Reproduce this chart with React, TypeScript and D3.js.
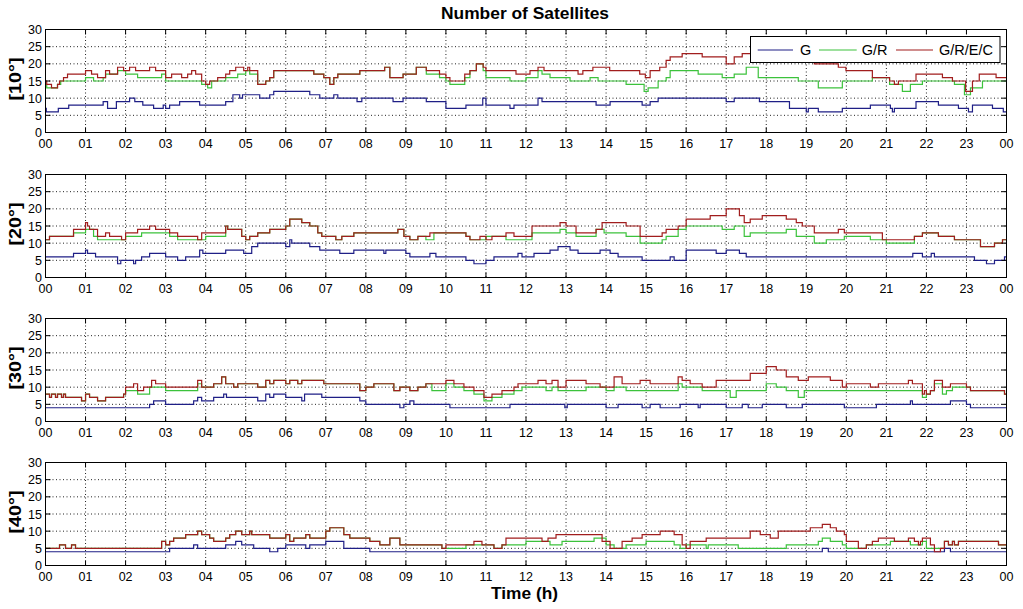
import React from 'react';
import * as d3 from 'd3';

type Pt = [number, number];

const TITLE = 'Number of Satellites';
const X_LABEL = 'Time (h)';
const PANEL_LABELS = ['[10°]', '[20°]', '[30°]', '[40°]'];
const SERIES_NAMES = ['G', 'G/R', 'G/R/E/C'];
const SERIES_COLORS = ['#1f1f86', '#3cc23c', '#a11d1d'];
const HOUR_TICKS = [0, 1, 2, 3, 4, 5, 6, 7, 8, 9, 10, 11, 12, 13, 14, 15, 16, 17, 18, 19, 20, 21, 22, 23, 24];
const HOUR_LABELS = ['00', '01', '02', '03', '04', '05', '06', '07', '08', '09', '10', '11', '12', '13', '14', '15', '16', '17', '18', '19', '20', '21', '22', '23', '00'];
const Y_TICKS = [0, 5, 10, 15, 20, 25, 30];

// ---- 10° ----
const G_10: Pt[] = [[0,7],[0.02,6],[0.32,7],[0.58,8],[1.44,9],[1.55,7],[1.77,9],[2.1,10],[2.23,9],[2.43,8],[2.7,7],[2.94,8],[3.0,7],[3.1,8],[3.35,9],[3.85,8],[4.5,9],[4.68,11],[4.85,10],[4.92,11],[5.35,10],[5.6,11],[5.7,12],[6.6,11],[6.85,10],[7.2,11],[7.3,10],[7.78,9],[7.9,10],[8.68,9],[8.93,10],[9.51,9],[10.0,7],[10.5,8],[10.92,10],[11.0,8],[11.6,7],[11.7,8],[12.3,10],[12.4,9],[13.75,8],[14.1,9],[14.9,8],[15.1,9],[15.3,10],[17.0,9],[17.2,10],[17.83,9],[18.58,7],[19.0,6],[19.05,7],[19.3,6],[19.9,7],[20.6,8],[21.1,7],[21.15,6],[21.2,7],[21.74,9],[22.3,8],[22.8,7],[23.05,6],[23.15,8],[23.65,7],[23.92,6]];
const GR_10: Pt[] = [[0,14],[0.03,13],[0.3,14],[0.38,15],[1.0,16],[1.2,15],[1.44,16],[1.5,17],[1.8,18],[2.0,17],[2.3,16],[2.9,17],[3.0,15],[3.9,14],[4.05,13],[4.15,15],[4.5,16],[4.8,17],[5.0,18],[5.1,17],[5.3,14],[5.5,15],[5.6,16],[5.7,18],[6.7,17],[6.95,16],[7.1,14],[7.2,16],[7.3,17],[7.85,18],[8.47,19],[8.6,16],[8.93,17],[9.26,19],[9.51,17],[9.84,16],[10.0,15],[10.1,14],[10.47,16],[10.6,18],[10.76,20],[10.93,18],[11.0,16],[11.6,15],[12.0,16],[12.3,18],[12.4,17],[12.6,16],[13.1,15],[13.6,16],[13.8,15],[14.5,14],[14.95,12],[15.05,13],[15.3,15],[15.5,16],[15.6,18],[16.3,17],[16.9,16],[17.2,17],[17.5,19],[17.8,16],[18.8,15],[19.3,13],[19.9,15],[20.65,16],[21.08,14],[21.4,12],[21.6,14],[21.9,15],[22.7,14],[22.95,11],[23.1,13],[23.4,15]];
const GRC_10: Pt[] = [[0,15],[0.03,14],[0.15,13],[0.3,14],[0.35,15],[0.45,16],[0.55,17],[1.0,18],[1.15,17],[1.3,16],[1.5,18],[1.6,17],[1.8,19],[1.95,18],[2.1,19],[2.25,18],[2.6,19],[2.75,18],[3.0,16],[3.15,17],[3.4,16],[3.55,17],[3.65,18],[3.75,17],[3.9,15],[4.0,14],[4.1,15],[4.3,16],[4.5,17],[4.6,18],[4.75,19],[4.95,18],[5.05,19],[5.1,18],[5.3,14],[5.5,15],[5.6,16],[5.7,18],[6.7,17],[6.95,16],[7.1,14],[7.2,16],[7.3,17],[7.85,18],[8.47,19],[8.6,16],[8.93,17],[9.26,19],[9.51,18],[9.84,17],[10.0,16],[10.1,15],[10.47,17],[10.6,18],[10.76,20],[10.93,19],[11.0,18],[11.75,17],[12.1,18],[12.3,19],[12.45,18],[13.3,17],[13.42,18],[13.67,19],[14.09,18],[14.84,17],[14.98,16],[15.1,18],[15.34,19],[15.5,21],[15.6,22],[15.9,23],[16.4,22],[17.0,20],[17.2,22],[17.4,23],[18.2,22],[18.8,21],[19.2,20],[19.8,19],[19.99,18],[20.65,16],[21.08,15],[21.2,14],[21.3,15],[21.74,17],[22.4,16],[22.65,15],[22.98,12],[23.15,15],[23.32,17],[23.74,16]];

// ---- 20° ----
const G_20: Pt[] = [[0,6],[0.7,7],[1.0,8],[1.05,7],[1.25,6],[1.8,4],[1.88,5],[2.2,4],[2.25,5],[2.4,6],[2.6,7],[3.0,6],[3.3,5],[3.5,6],[3.85,8],[3.93,7],[4.5,8],[4.95,7],[5.15,9],[5.3,10],[6.0,9],[6.1,11],[6.15,10],[6.6,9],[6.85,8],[7.35,7],[7.7,8],[8.45,7],[8.5,8],[9.0,7],[9.1,6],[9.6,7],[9.75,6],[10.5,5],[10.7,4],[11.0,5],[11.2,6],[11.8,7],[11.9,6],[12.2,7],[12.6,8],[12.8,9],[13.1,8],[13.3,7],[13.85,8],[14.1,7],[14.3,6],[14.9,5],[15.6,6],[15.7,5],[16.0,8],[16.75,7],[17.0,8],[17.33,7],[17.5,6],[21.66,7],[21.9,6],[22.12,7],[22.2,6],[23.2,5],[23.5,4],[23.7,5],[23.95,6]];
const GR_20: Pt[] = [[0,11],[0.1,12],[0.7,13],[1.0,14],[1.2,12],[1.3,11],[2.0,12],[2.4,13],[3.1,12],[3.3,11],[4.0,12],[4.5,15],[4.55,14],[4.9,12],[5.0,11],[5.1,12],[5.3,13],[5.6,14],[6.0,15],[6.1,17],[6.4,16],[6.6,15],[6.8,13],[6.9,12],[7.25,11],[7.4,12],[7.7,13],[8.8,14],[8.95,12],[9.1,11],[9.3,12],[9.5,11],[9.7,13],[10.5,12],[10.6,11],[11.0,12],[11.5,11],[12.15,13],[12.85,14],[13.0,13],[13.25,12],[13.75,14],[13.95,13],[14.5,12],[14.85,10],[15.4,11],[15.5,12],[15.8,14],[16.0,15],[16.9,14],[17.2,15],[17.45,12],[17.6,13],[18.5,14],[18.75,12],[19.2,10],[19.5,11],[19.95,12],[20.6,11],[21.0,10],[21.7,12],[21.9,13],[22.3,12],[22.7,11],[23.35,9],[23.7,10],[23.9,11]];
const GRC_20: Pt[] = [[0,11],[0.1,12],[0.7,14],[1.0,16],[1.05,15],[1.1,14],[1.3,12],[1.5,13],[1.6,12],[1.9,11],[2.0,13],[2.3,14],[2.6,15],[2.75,14],[3.1,13],[3.3,12],[3.8,11],[3.9,13],[4.5,15],[4.55,14],[4.9,12],[5.0,11],[5.1,12],[5.3,13],[5.6,14],[6.0,15],[6.1,17],[6.4,16],[6.6,15],[6.8,13],[6.9,12],[7.25,11],[7.4,12],[7.7,13],[8.8,14],[8.95,12],[9.1,11],[9.3,12],[9.6,13],[10.5,12],[10.6,11],[10.85,12],[11.0,11],[11.15,12],[11.5,13],[11.7,12],[12.15,15],[12.85,16],[13.0,15],[13.25,13],[13.75,14],[13.9,16],[14.5,15],[14.85,12],[15.4,13],[15.5,14],[15.8,15],[16.0,17],[16.6,18],[17.0,20],[17.33,18],[17.45,16],[17.6,17],[17.9,18],[18.5,17],[18.75,16],[18.9,15],[19.2,13],[19.8,14],[19.95,13],[20.9,11],[21.7,12],[21.9,13],[22.3,12],[22.7,11],[23.35,9],[23.7,10],[23.9,11]];

// ---- 30° ----
const G_30: Pt[] = [[0,4],[2.6,5],[2.7,6],[3.0,5],[3.7,6],[3.8,7],[3.9,6],[4.2,7],[4.45,8],[4.52,7],[5.3,6],[5.5,8],[5.6,7],[5.7,8],[6.0,7],[6.4,6],[6.47,8],[6.9,7],[7.85,6],[8.0,5],[8.85,4],[8.95,5],[9.1,6],[9.2,5],[10.1,4],[11.6,5],[12.97,4],[13.03,5],[14.0,4],[14.3,5],[14.9,4],[15.1,5],[15.35,4],[15.85,5],[16.3,4],[16.35,5],[17.0,4],[17.4,5],[17.55,4],[17.9,5],[18.5,4],[18.9,5],[19.95,4],[20.75,5],[21.6,6],[21.65,5],[22.6,6],[23.0,5],[23.1,4]];
const GR_30: Pt[] = [[0,8],[0.1,7],[0.15,8],[0.25,7],[0.3,8],[0.4,7],[0.45,8],[0.5,7],[0.9,6],[1.0,8],[1.1,7],[1.3,6],[1.5,7],[1.95,8],[2.0,9],[2.3,8],[2.6,10],[3.0,9],[3.8,11],[3.9,10],[4.2,11],[4.4,13],[4.5,11],[4.7,10],[4.8,11],[5.3,10],[5.5,12],[5.6,11],[5.7,12],[6.0,11],[6.1,12],[6.3,11],[6.4,12],[6.95,11],[7.85,9],[8.0,10],[8.2,11],[8.7,9],[8.85,10],[9.1,9],[9.3,10],[9.5,11],[9.65,9],[10.0,11],[10.2,10],[10.45,9],[10.7,8],[10.95,6],[11.15,7],[11.4,8],[11.7,9],[11.9,10],[12.5,9],[12.65,10],[12.8,9],[13.5,10],[14.0,9],[14.2,10],[14.5,9],[15.8,11],[15.9,10],[16.4,9],[17.1,7],[17.25,9],[18.0,11],[18.25,10],[18.5,9],[18.8,7],[18.95,9],[21.9,7],[22.0,8],[22.1,9],[22.2,11],[22.4,8],[22.5,9],[22.65,10],[23.1,9],[23.95,8]];
const GRC_30: Pt[] = [[0,8],[0.1,7],[0.15,8],[0.25,7],[0.3,8],[0.4,7],[0.45,8],[0.5,7],[0.9,6],[1.0,8],[1.1,7],[1.3,6],[1.5,7],[1.95,8],[2.0,10],[2.2,11],[2.3,9],[2.45,10],[2.65,12],[2.75,11],[3.0,10],[3.8,12],[3.9,10],[4.2,11],[4.4,13],[4.5,11],[4.7,10],[4.8,11],[5.3,10],[5.5,12],[5.6,11],[5.7,12],[6.0,11],[6.1,12],[6.3,11],[6.4,12],[6.95,11],[7.85,9],[8.0,10],[8.2,11],[8.7,9],[8.85,10],[9.1,9],[9.3,10],[9.5,11],[10.0,12],[10.2,11],[10.45,10],[10.7,9],[10.95,7],[11.15,8],[11.4,9],[11.7,10],[11.8,11],[12.3,12],[12.5,11],[12.65,12],[12.8,10],[13.0,12],[13.5,11],[13.85,10],[14.2,13],[14.4,11],[14.85,12],[15.1,11],[15.8,13],[15.9,12],[16.1,11],[16.4,10],[16.75,12],[17.6,14],[18.0,16],[18.25,15],[18.5,13],[18.8,12],[19.05,13],[19.6,12],[19.9,10],[20.0,11],[20.6,10],[20.8,11],[21.55,12],[21.65,11],[21.9,8],[21.95,9],[22.0,8],[22.1,9],[22.2,12],[22.4,10],[22.6,11],[23.0,10],[23.1,9],[23.95,8]];

// ---- 40° ----
const G_40: Pt[] = [[0,4],[3.1,5],[3.7,6],[3.8,5],[4.5,6],[4.75,7],[4.9,6],[5.2,5],[5.6,4],[5.8,5],[6.0,6],[6.5,5],[6.6,6],[7.0,7],[7.45,5],[8.1,4],[19.4,5],[19.55,4],[22.45,5],[22.6,4]];
const GR_40: Pt[] = [[0,5],[0.35,6],[0.5,5],[0.65,6],[0.75,5],[2.9,7],[3.0,6],[3.1,7],[3.2,8],[3.5,9],[3.8,10],[3.9,9],[4.1,8],[4.2,7],[4.5,8],[4.6,9],[4.75,10],[4.9,9],[5.1,10],[5.15,9],[5.6,8],[6.0,9],[6.1,7],[6.2,8],[6.5,9],[6.6,8],[7.0,10],[7.1,11],[7.45,9],[7.6,8],[8.1,7],[8.35,6],[8.6,8],[8.85,6],[9.9,5],[10.5,6],[11.2,5],[11.4,6],[12.0,7],[12.6,6],[12.9,7],[13.7,8],[14.0,6],[14.2,5],[14.5,6],[15.0,7],[15.7,6],[15.85,5],[16.0,6],[16.5,5],[16.55,6],[17.3,5],[18.5,6],[19.3,7],[19.4,8],[19.6,7],[19.9,6],[20.0,5],[20.5,6],[21.1,7],[21.6,6],[21.9,7],[22.0,5],[22.45,7],[22.55,6],[22.65,7],[22.7,6],[22.8,7],[23.8,6]];
const GRC_40: Pt[] = [[0,5],[0.35,6],[0.5,5],[0.65,6],[0.75,5],[2.9,7],[3.0,6],[3.1,7],[3.2,8],[3.5,9],[3.8,10],[3.9,9],[4.1,8],[4.2,7],[4.5,8],[4.6,9],[4.75,10],[4.9,9],[5.1,10],[5.15,9],[5.6,8],[6.0,9],[6.1,7],[6.2,8],[6.5,9],[6.6,8],[7.0,10],[7.1,11],[7.45,9],[7.6,8],[8.1,7],[8.35,6],[8.6,8],[8.85,6],[9.9,5],[10.0,6],[10.7,7],[10.9,6],[11.2,5],[11.4,6],[11.5,8],[12.4,7],[12.55,8],[12.75,9],[13.9,7],[14.1,5],[14.4,7],[14.65,8],[14.9,9],[15.35,10],[15.7,9],[15.9,6],[16.0,5],[16.1,7],[16.5,8],[17.6,10],[17.85,9],[18.1,8],[18.3,10],[19.1,11],[19.4,12],[19.6,11],[19.75,10],[19.95,9],[20.0,7],[20.3,5],[20.5,6],[20.65,7],[20.8,8],[21.2,7],[21.55,8],[21.7,7],[21.8,6],[21.85,7],[21.9,8],[22.1,6],[22.2,4],[22.35,5],[22.45,7],[22.55,6],[22.65,7],[22.7,6],[22.8,7],[23.8,6]];

const PANELS: Pt[][][] = [
  [G_10, GR_10, GRC_10],
  [G_20, GR_20, GRC_20],
  [G_30, GR_30, GRC_30],
  [G_40, GR_40, GRC_40],
];

const W = 1023;
const H = 609;
const X0 = 45.5;
const X1 = 1006.5;
const PANEL_TOPS = [29.5, 174.5, 318.5, 462.5];
const PH = 103;
const FONT = '"Liberation Sans", Arial, Helvetica, sans-serif';
const TICK = 5;

const x = d3.scaleLinear().domain([0, 24]).range([X0, X1]);

function withEnd(d: Pt[]): Pt[] {
  const last = d[d.length - 1];
  return [...d, [24, last[1]]];
}

function Panel({ idx }: { idx: number }) {
  const top = PANEL_TOPS[idx];
  const y = d3.scaleLinear().domain([0, 30]).range([top + PH, top]);
  const line = d3
    .line<Pt>()
    .x((d) => x(d[0]))
    .y((d) => y(d[1]))
    .curve(d3.curveStepAfter);
  const series = PANELS[idx];
  const cy = top + PH / 2 - 2;
  return (
    <g>
      {/* grid */}
      {HOUR_TICKS.slice(1, -1).map((h) => (
        <line key={'gx' + h} x1={x(h)} x2={x(h)} y1={top} y2={top + PH} stroke="#222" strokeWidth={1} strokeDasharray="1,2.5" />
      ))}
      {Y_TICKS.slice(1, -1).map((v) => (
        <line key={'gy' + v} x1={X0} x2={X1} y1={y(v)} y2={y(v)} stroke="#222" strokeWidth={1} strokeDasharray="1,2.5" />
      ))}
      {/* series */}
      {series.map((s, i) => (
        <path key={'s' + i} d={line(withEnd(s)) || ''} fill="none" stroke={SERIES_COLORS[i]} strokeWidth={1.2} />
      ))}
      {/* box */}
      <rect x={X0} y={top} width={X1 - X0} height={PH} fill="none" stroke="#000" strokeWidth={1} />
      {/* ticks */}
      {HOUR_TICKS.map((h) => (
        <g key={'tx' + h}>
          <line x1={x(h)} x2={x(h)} y1={top + PH} y2={top + PH - TICK} stroke="#000" />
          <line x1={x(h)} x2={x(h)} y1={top} y2={top + TICK} stroke="#000" />
        </g>
      ))}
      {Y_TICKS.map((v) => (
        <g key={'ty' + v}>
          <line x1={X0} x2={X0 + TICK} y1={y(v)} y2={y(v)} stroke="#000" />
          <line x1={X1} x2={X1 - TICK} y1={y(v)} y2={y(v)} stroke="#000" />
        </g>
      ))}
      {/* tick labels */}
      {HOUR_TICKS.map((h, i) => (
        <text key={'lx' + h} x={x(h)} y={top + PH + 15} textAnchor="middle" fontFamily={FONT} fontSize={12.5} fill="#000">
          {HOUR_LABELS[i]}
        </text>
      ))}
      {Y_TICKS.map((v) => (
        <text key={'ly' + v} x={42} y={y(v)} dy="0.36em" textAnchor="end" fontFamily={FONT} fontSize={12.5} fill="#000">
          {v}
        </text>
      ))}
      <text
        transform={`translate(15.5,${cy}) rotate(-90)`}
        dy="0.36em"
        textAnchor="middle"
        fontFamily={FONT}
        fontWeight="bold"
        fontSize={16}
        textLength={43}
        lengthAdjust="spacingAndGlyphs"
        fill="#000"
      >
        {PANEL_LABELS[idx]}
      </text>
    </g>
  );
}

function Legend() {
  const lx = 750.5;
  const ly = 36.5;
  const lw = 249.5;
  const lh = 26;
  const cyL = 50;
  const items = [
    { l1: 757.7, l2: 793, tx: 800 },
    { l1: 819, l2: 856.7, tx: 861.7 },
    { l1: 896, l2: 933, tx: 939 },
  ];
  return (
    <g>
      <rect x={lx} y={ly} width={lw} height={lh} fill="#fff" stroke="#000" strokeWidth={1} />
      {items.map((it, i) => (
        <g key={'lg' + i}>
          <line x1={it.l1} x2={it.l2} y1={cyL} y2={cyL} stroke={SERIES_COLORS[i]} strokeWidth={1.2} />
          <text x={it.tx} y={55} fontFamily={FONT} fontSize={14.5} fill="#000">
            {SERIES_NAMES[i]}
          </text>
        </g>
      ))}
    </g>
  );
}

export default function App() {
  return (
    <svg width={W} height={H} style={{ position: 'absolute', left: 0, top: 0, background: '#fff' }}>
      <rect x={0} y={0} width={W} height={H} fill="#fff" />
      <text x={525} y={19} textAnchor="middle" fontFamily={FONT} fontWeight="bold" fontSize={16} textLength={168} lengthAdjust="spacingAndGlyphs" fill="#000">
        {TITLE}
      </text>
      {PANELS.map((_, i) => (
        <Panel key={i} idx={i} />
      ))}
      <Legend />
      <text x={524.5} y={599} textAnchor="middle" fontFamily={FONT} fontWeight="bold" fontSize={16} textLength={67} lengthAdjust="spacingAndGlyphs" fill="#000">
        {X_LABEL}
      </text>
    </svg>
  );
}
